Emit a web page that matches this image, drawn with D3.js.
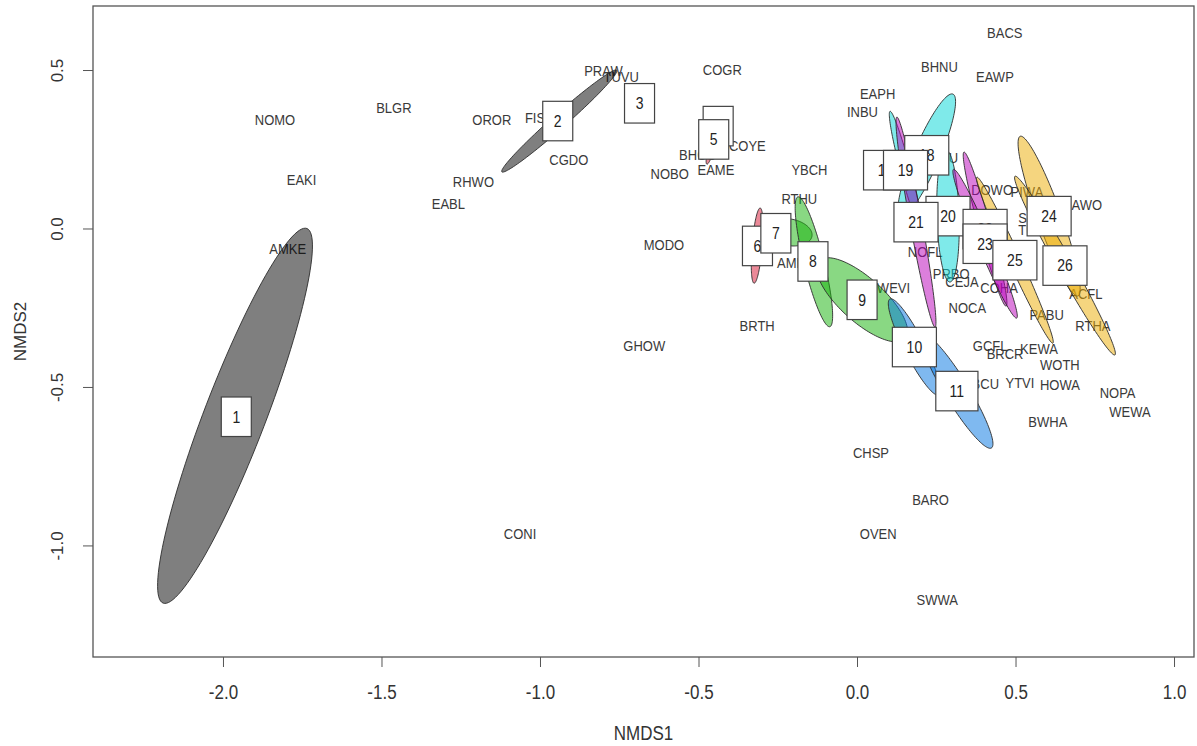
<!DOCTYPE html>
<html>
<head>
<meta charset="utf-8">
<script src="https://cdn.jsdelivr.net/npm/d3@7"></script>
<style>
  html, body { margin: 0; padding: 0; background: #fff; }
  svg { display: block; font-family: "Liberation Sans", Arial, Helvetica, sans-serif; }
</style>
</head>
<body>
<svg id="chart" width="1197" height="746"></svg>
<script>
// ---- species scores (NMDS1, NMDS2) ----
const speciesCodes = ["NOMO","BLGR","OROR","FISP","EAKI","RHWO","EABL","AMKE","CGDO","PRAW","TUVU",
  "COGR","COYE","BHCO","NOBO","EAME","MODO","GHOW","BRTH","CONI","YBCH","RTHU","AMRO","WEVI",
  "CHSP","BARO","OVEN","SWWA","BACS","BHNU","EAWP","EAPH","INBU","WBNU","DOWO","PIWA","HAWO",
  "SCTA","TUTI","NOFL","PRBO","CEJA","COHA","NOCA","ACFL","PABU","RTHA","GCFL","BRCR","KEWA",
  "WOTH","YBCU","YTVI","HOWA","NOPA","WEWA","BWHA"];
const speciesX = [-1.836,-1.461,-1.152,-1.002,-1.752,-1.210,-1.289,-1.796,-0.909,-0.800,-0.744,
  -0.425,-0.346,-0.502,-0.591,-0.445,-0.609,-0.671,-0.315,-1.063,-0.150,-0.182,-0.191,0.115,
  0.044,0.232,0.067,0.253,0.466,0.260,0.435,0.065,0.017,0.256,0.426,0.536,0.710,
  0.562,0.554,0.215,0.297,0.331,0.448,0.348,0.722,0.598,0.744,0.420,0.467,0.574,
  0.640,0.391,0.514,0.640,0.822,0.861,0.602];
const speciesY = [0.345,0.381,0.345,0.351,0.155,0.147,0.079,-0.065,0.216,0.497,0.479,
  0.502,0.263,0.234,0.173,0.187,-0.052,-0.368,-0.305,-0.964,0.186,0.093,-0.108,-0.186,
  -0.706,-0.855,-0.964,-1.172,0.617,0.510,0.479,0.424,0.370,0.225,0.124,0.115,0.074,
  0.034,-0.003,-0.074,-0.141,-0.169,-0.188,-0.250,-0.207,-0.271,-0.305,-0.370,-0.396,-0.380,
  -0.428,-0.488,-0.487,-0.494,-0.518,-0.578,-0.610];

// ---- group centroids (numbered labels) ----
const groupIds = [1,2,3,4,5,6,7,8,9,10,11,17,18,19,20,21,22,23,24,25,26];
const groupX = [-1.958,-0.944,-0.686,-0.438,-0.452,-0.314,-0.256,-0.139,0.016,0.181,0.315,
  0.090,0.220,0.153,0.287,0.186,0.404,0.404,0.606,0.498,0.656];
const groupY = [-0.594,0.339,0.395,0.323,0.281,-0.055,-0.015,-0.104,-0.225,-0.374,-0.513,
  0.184,0.231,0.184,0.039,0.020,-0.002,-0.048,0.039,-0.100,-0.117];

// ---- dispersion ellipses: centre, semi-axes and rotation (degrees, data space) ----
const ellipseGroup = [1,2,5,6,7,8,9,10,11,18,19,20,21,22,23,24,25,26];
const ellipseCX = [-1.962,-0.939,-0.452,-0.315,-0.213,-0.136,0.016,0.181,0.315,
  0.220,0.153,0.287,0.186,0.404,0.404,0.606,0.498,0.656];
const ellipseCY = [-0.591,0.339,0.281,-0.054,-0.012,-0.105,-0.225,-0.374,-0.513,
  0.231,0.184,0.039,0.020,-0.002,-0.048,0.039,-0.100,-0.117];
const ellipseA = [0.633,0.242,0.081,0.119,0.072,0.211,0.183,0.170,0.210,
  0.210,0.192,0.208,0.337,0.252,0.255,0.268,0.288,0.323];
const ellipseB = [0.097,0.022,0.011,0.016,0.042,0.032,0.069,0.032,0.038,
  0.041,0.016,0.035,0.019,0.019,0.022,0.038,0.019,0.025];
const ellipseAngle = [69.0,41.5,74.6,85.4,-10,103.8,-42,117,121.3,
  66.8,104.7,91.7,100.3,105.3,113,109.9,114.6,119.2];
const ellipseColor = ["gray","gray","pink","pink","green","green","green","blue","blue",
  "cyan","cyan","cyan","magenta","magenta","magenta","yellow","yellow","yellow"];

// ---- axes ----
const xTicks = [-2.0,-1.5,-1.0,-0.5,0.0,0.5,1.0];
const yTicks = [-1.0,-0.5,0.0,0.5];
const xDomain = [-2.410, 1.063];
const yDomain = [-1.352, 0.702];

const palette = {
  gray: "#000000", pink: "#d71432", green: "#13b107", blue: "#0073e1",
  cyan: "#00d5d5", magenta: "#b900b9", yellow: "#ebab00"
};

const svg = d3.select("#chart");
const plot = { left: 93, right: 1194, top: 6, bottom: 657 };
const x = d3.scaleLinear().domain(xDomain).range([plot.left, plot.right]);
const y = d3.scaleLinear().domain(yDomain).range([plot.bottom, plot.top]);
const fmt = d => d.toFixed(1);
const stretch = "scale(1,1.15)";

// x axis
const gx = svg.append("g").attr("transform", `translate(0,${plot.bottom})`)
  .call(d3.axisBottom(x).tickValues(xTicks).tickFormat(fmt).tickSize(10).tickSizeOuter(0));
gx.select(".domain").remove();
gx.selectAll(".tick line").attr("stroke", "#555");
gx.selectAll(".tick text")
  .attr("y", 0).attr("dy", "0.36em")
  .attr("transform", `translate(0,35) ${stretch}`)
  .attr("font-size", 17).attr("fill", "#333").attr("font-family", null);

// y axis
const gy = svg.append("g").attr("transform", `translate(${plot.left},0)`)
  .call(d3.axisLeft(y).tickValues(yTicks).tickFormat(fmt).tickSize(10).tickSizeOuter(0));
gy.select(".domain").remove();
gy.selectAll(".tick line").attr("stroke", "#555");
gy.selectAll(".tick text")
  .attr("x", 0).attr("dy", "0.36em")
  .attr("text-anchor", "middle")
  .attr("transform", "translate(-36,0) rotate(-90)")
  .attr("font-size", 17).attr("fill", "#333").attr("font-family", null);

// axis titles
svg.append("text")
  .attr("transform", `translate(${(plot.left + plot.right) / 2},733) ${stretch}`)
  .attr("text-anchor", "middle").attr("dy", "0.36em")
  .attr("font-size", 17).attr("fill", "#333").text("NMDS1");
svg.append("text")
  .attr("transform", `translate(20,${(plot.top + plot.bottom) / 2}) rotate(-90)`)
  .attr("text-anchor", "middle").attr("dy", "0.36em")
  .attr("font-size", 17).attr("fill", "#333").text("NMDS2");

// species labels
const species = speciesCodes.map((c, i) => ({ code: c, x: speciesX[i], y: speciesY[i] }));
svg.append("g").selectAll("text").data(species).join("text")
  .attr("transform", d => `translate(${x(d.x)},${y(d.y)}) ${stretch}`)
  .attr("text-anchor", "middle").attr("dy", "0.36em")
  .attr("font-size", 13).attr("fill", "#3a3a3a")
  .text(d => d.code);

// ellipses, traced in data space and mapped through the scales
const ellipses = ellipseGroup.map((g, i) => ({
  group: g, cx: ellipseCX[i], cy: ellipseCY[i], a: ellipseA[i], b: ellipseB[i],
  angle: ellipseAngle[i], color: palette[ellipseColor[i]]
}));
const line = d3.line().x(p => x(p[0])).y(p => y(p[1])).curve(d3.curveLinearClosed);
function ellipsePoints(e) {
  const th = e.angle * Math.PI / 180, n = 120, pts = [];
  for (let k = 0; k < n; k++) {
    const t = 2 * Math.PI * k / n;
    const u = e.a * Math.cos(t), v = e.b * Math.sin(t);
    pts.push([e.cx + u * Math.cos(th) - v * Math.sin(th), e.cy + u * Math.sin(th) + v * Math.cos(th)]);
  }
  return pts;
}
svg.append("g").selectAll("path").data(ellipses).join("path")
  .attr("d", d => line(ellipsePoints(d)))
  .attr("fill", d => d.color).attr("fill-opacity", 0.5)
  .attr("stroke", "#2b2b2b").attr("stroke-width", 0.9);

// numbered group labels in boxes
const groups = groupIds.map((id, i) => ({ id, x: groupX[i], y: groupY[i] }));
const boxH = 39.5;
const gl = svg.append("g").selectAll("g").data(groups).join("g")
  .attr("transform", d => `translate(${x(d.x)},${y(d.y)})`);
gl.append("rect").attr("fill", "#fff").attr("stroke", "#444").attr("stroke-width", 1.2);
gl.append("text")
  .attr("text-anchor", "middle").attr("dy", "0.36em")
  .attr("transform", stretch)
  .attr("font-size", 14).attr("fill", "#222")
  .text(d => d.id);
gl.each(function () {
  const g = d3.select(this);
  const w = 1.8 * g.select("text").node().getComputedTextLength() + 16;
  g.select("rect").attr("x", -w / 2).attr("y", -boxH / 2).attr("width", w).attr("height", boxH);
});

// plot frame
svg.append("rect")
  .attr("x", plot.left).attr("y", plot.top)
  .attr("width", plot.right - plot.left).attr("height", plot.bottom - plot.top)
  .attr("fill", "none").attr("stroke", "#555").attr("stroke-width", 1.3);
</script>
</body>
</html>
